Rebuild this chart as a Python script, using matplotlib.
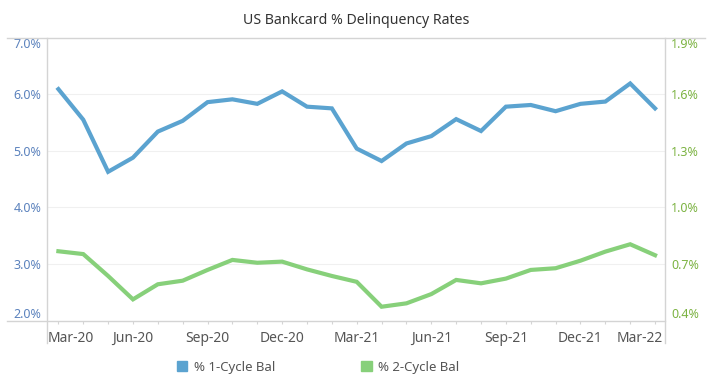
import matplotlib.pyplot as plt
import matplotlib.lines as mlines
import matplotlib.patches as mpatches
import matplotlib.transforms as mtransforms

plt.rcParams['font.family'] = ['Noto Sans', 'DejaVu Sans']

months = ['Mar-20', 'Apr-20', 'May-20', 'Jun-20', 'Jul-20', 'Aug-20', 'Sep-20',
          'Oct-20', 'Nov-20', 'Dec-20', 'Jan-21', 'Feb-21', 'Mar-21', 'Apr-21',
          'May-21', 'Jun-21', 'Jul-21', 'Aug-21', 'Sep-21', 'Oct-21', 'Nov-21',
          'Dec-21', 'Jan-22', 'Feb-22', 'Mar-22']
cycle1 = [6.09, 5.55, 4.63, 4.88, 5.34, 5.53, 5.86, 5.91, 5.83, 6.05, 5.78, 5.75,
          5.04, 4.82, 5.13, 5.26, 5.56, 5.35, 5.78, 5.81, 5.70, 5.83, 5.87, 6.19, 5.75]
cycle2 = [0.768, 0.753, 0.637, 0.513, 0.593, 0.612, 0.669, 0.722, 0.707, 0.713,
          0.672, 0.637, 0.606, 0.474, 0.492, 0.541, 0.616, 0.598, 0.623, 0.669,
          0.678, 0.718, 0.766, 0.805, 0.747]
left_ticks = [2.0, 3.0, 4.0, 5.0, 6.0, 7.0]
right_ticks = [0.4, 0.7, 1.0, 1.3, 1.6, 1.9]

blue = '#5ba3d0'
green = '#87d07a'
blue_txt = '#5b82bd'
green_txt = '#7cb342'
grey_txt = '#555555'
axis_col = '#d4d4d4'

fig = plt.figure(figsize=(7.1, 3.8), dpi=100)
ax = fig.add_axes([46.7 / 710, 1 - 320.7 / 380, (665 - 46.7) / 710, (320.7 - 37.6) / 380])
ax2 = ax.twinx()

x = list(range(len(months)))
ax.plot(x, cycle1, color=blue, lw=3, solid_joinstyle='miter', zorder=3)
ax2.plot(x, cycle2, color=green, lw=3, solid_joinstyle='miter', zorder=3)

ax.set_xlim(-0.47, 24.4)
ax.set_ylim(2.0, 7.0)
ax2.set_ylim(0.4, 1.9)

# horizontal gridlines
for v in left_ticks[1:-1]:
    ax.axhline(v, color='#f0f0f0', lw=0.8, zorder=0)

ax.set_yticks(left_ticks)
ax.set_yticklabels(['%.1f%%' % v for v in left_ticks], color=blue_txt, fontsize=9)
ax2.set_yticks(right_ticks)
ax2.set_yticklabels(['%.1f%%' % v for v in right_ticks], color=green_txt, fontsize=9)
ax.tick_params(axis='y', length=0, pad=4)
ax2.tick_params(axis='y', length=0, pad=4.5)
for a in (ax, ax2):
    labs = a.get_yticklabels()
    labs[0].set_va('bottom')
    labs[-1].set_va('top')

ax.set_xticks(x, minor=True)
ax.set_xticks(x[::3])
ax.set_xticklabels([])
ax.tick_params(axis='x', which='both', length=2.5, color=axis_col, width=0.8)

# x labels, kept inside plot range at the ends
tr = mtransforms.blended_transform_factory(ax.transData, ax.transAxes)
for i in x[::3]:
    xi, ha = i, 'center'
    if i == 0:
        xi, ha = -0.42, 'left'
    elif i == x[-1]:
        xi, ha = 24.32, 'right'
    ax.text(xi, -0.062, months[i], transform=tr, ha=ha, va='center',
            fontsize=10, color=grey_txt)

for a in (ax, ax2):
    for s in a.spines.values():
        s.set_visible(False)

# Tableau-like frame lines
fig.add_artist(mlines.Line2D([7 / 710, 705 / 710], [1 - 37.6 / 380] * 2, color=axis_col, lw=1))
fig.add_artist(mlines.Line2D([7 / 710, 665 / 710], [1 - 320.7 / 380] * 2, color=axis_col, lw=1))
fig.add_artist(mlines.Line2D([46.7 / 710] * 2, [1 - 37.6 / 380, 1 - 343 / 380], color=axis_col, lw=1))
fig.add_artist(mlines.Line2D([665 / 710] * 2, [1 - 37.6 / 380, 1 - 343 / 380], color=axis_col, lw=1))

fig.text(356 / 710, 1 - 20.5 / 380, 'US Bankcard % Delinquency Rates', ha='center', va='center',
         fontsize=10.2, color='#333333')

handles = [mpatches.Patch(color=blue, label='% 1-Cycle Bal'),
           mpatches.Patch(color=green, label='% 2-Cycle Bal')]
fig.legend(handles=handles, loc='center left', bbox_to_anchor=(165 / 710, 1 - 367.5 / 380),
           ncol=2, frameon=False, fontsize=9.5, handlelength=0.8, handleheight=0.8,
           handletextpad=0.5, columnspacing=6.5, labelcolor=grey_txt)

fig.savefig('out.png', dpi=100)
